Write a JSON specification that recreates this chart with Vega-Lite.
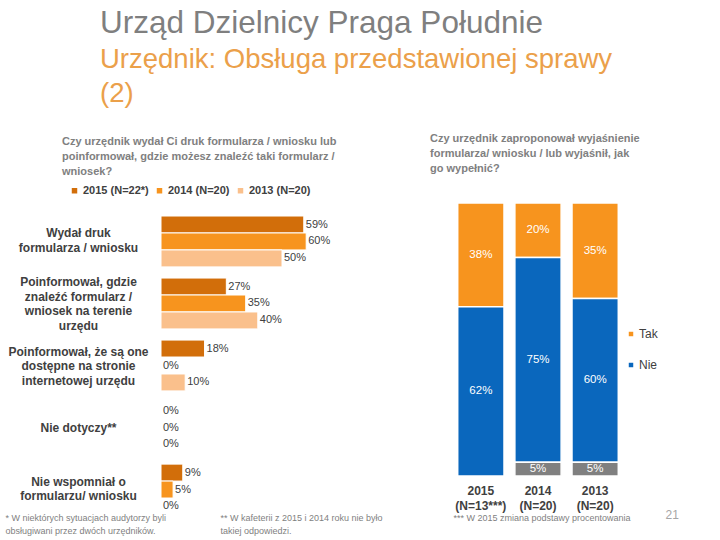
{
  "$schema": "https://vega.github.io/schema/vega-lite/v6.json",
  "background": "white",
  "padding": {"left": 5, "top": 8, "right": 5, "bottom": 4},
  "config": {
    "view": {"stroke": null},
    "font": "Liberation Sans"
  },
  "title": {
    "text": "Urząd Dzielnicy Praga Południe",
    "subtitle": ["Urzędnik: Obsługa przedstawionej sprawy", "(2)"],
    "anchor": "start",
    "frame": "bounds",
    "dx": 95,
    "font": "Liberation Sans",
    "fontSize": 31.5,
    "fontWeight": "normal",
    "color": "#7F7F7F",
    "subtitleFont": "Liberation Sans",
    "subtitleFontSize": 27.5,
    "subtitleColor": "#EBA04A",
    "subtitleLineHeight": 34,
    "subtitlePadding": 6,
    "offset": 26
  },
  "resolve": {"scale": {"color": "independent"}, "legend": {"color": "independent"}},
  "bounds": "flush",
  "spacing": 49,
  "hconcat": [
    {
      "width": 242,
      "height": 325,
      "title": {
        "text": ["Czy urzędnik wydał Ci druk formularza / wniosku lub", "poinformował, gdzie możesz znaleźć taki formularz /", "wniosek?"],
        "anchor": "start",
        "frame": "group",
        "dx": -99,
        "fontSize": 11,
        "fontWeight": "bold",
        "color": "#808080",
        "lineHeight": 15,
        "offset": 8
      },
      "data": {
        "values": [
          {"cat": "Wydał druk|formularza / wniosku", "year": "2015 (N=22*)", "value": 0.59},
          {"cat": "Wydał druk|formularza / wniosku", "year": "2014 (N=20)", "value": 0.60},
          {"cat": "Wydał druk|formularza / wniosku", "year": "2013 (N=20)", "value": 0.50},
          {"cat": "Poinformował, gdzie|znaleźć formularz /|wniosek na terenie|urzędu", "year": "2015 (N=22*)", "value": 0.27},
          {"cat": "Poinformował, gdzie|znaleźć formularz /|wniosek na terenie|urzędu", "year": "2014 (N=20)", "value": 0.35},
          {"cat": "Poinformował, gdzie|znaleźć formularz /|wniosek na terenie|urzędu", "year": "2013 (N=20)", "value": 0.40},
          {"cat": "Poinformował, że są one|dostępne na stronie|internetowej urzędu", "year": "2015 (N=22*)", "value": 0.18},
          {"cat": "Poinformował, że są one|dostępne na stronie|internetowej urzędu", "year": "2014 (N=20)", "value": 0.0},
          {"cat": "Poinformował, że są one|dostępne na stronie|internetowej urzędu", "year": "2013 (N=20)", "value": 0.10},
          {"cat": "Nie dotyczy**", "year": "2015 (N=22*)", "value": 0.0},
          {"cat": "Nie dotyczy**", "year": "2014 (N=20)", "value": 0.0},
          {"cat": "Nie dotyczy**", "year": "2013 (N=20)", "value": 0.0},
          {"cat": "Nie wspomniał o|formularzu/ wniosku", "year": "2015 (N=22*)", "value": 0.09},
          {"cat": "Nie wspomniał o|formularzu/ wniosku", "year": "2014 (N=20)", "value": 0.05},
          {"cat": "Nie wspomniał o|formularzu/ wniosku", "year": "2013 (N=20)", "value": 0.0}
        ]
      },
      "encoding": {
        "y": {
          "field": "cat",
          "type": "nominal",
          "sort": null,
          "scale": {"paddingInner": 0.18, "paddingOuter": 0.21},
          "axis": {
            "title": ["* W niektórych sytuacjach audytorzy byli", "obsługiwani przez dwóch urzędników."],
            "titleAngle": 0,
            "titleAlign": "left",
            "titleBaseline": "top",
            "titleX": -156,
            "titleY": 310,
            "titleFontSize": 9,
            "titleFontWeight": "normal",
            "titleColor": "#7F7F7F",
            "titleLineHeight": 13,
            "domain": false,
            "ticks": false,
            "labelAlign": "center",
            "labelBaseline": "middle",
            "labelPadding": 83,
            "labelOffset": {
              "condition": [
                {"test": "length(split(datum.label, '|')) == 4", "value": -21},
                {"test": "length(split(datum.label, '|')) == 3", "value": -14},
                {"test": "length(split(datum.label, '|')) == 2", "value": -8}
              ],
              "value": 0
            },
            "labelFontSize": 12,
            "labelFontWeight": "bold",
            "labelColor": "#404040",
            "labelLineHeight": 14.5,
            "labelLimit": 300,
            "labelExpr": "split(datum.label, '|')"
          }
        },
        "yOffset": {
          "field": "year",
          "type": "nominal",
          "sort": ["2015 (N=22*)", "2014 (N=20)", "2013 (N=20)"]
        },
        "x": {
          "field": "value",
          "type": "quantitative",
          "scale": {"domain": [0, 1]},
          "axis": {
            "title": ["** W kafeterii z 2015 i 2014 roku nie było", "takiej odpowiedzi."],
            "titleAlign": "left",
            "titleBaseline": "top",
            "titleX": 59,
            "titleY": -15,
            "titleFontSize": 9,
            "titleFontWeight": "normal",
            "titleColor": "#7F7F7F",
            "titleLineHeight": 13,
            "labels": false,
            "ticks": false,
            "domain": false,
            "grid": false
          }
        }
      },
      "layer": [
        {
          "mark": {"type": "bar", "stroke": "white", "strokeWidth": 1},
          "encoding": {
            "color": {
              "field": "year",
              "type": "nominal",
              "sort": ["2015 (N=22*)", "2014 (N=20)", "2013 (N=20)"],
              "scale": {"domain": ["2015 (N=22*)", "2014 (N=20)", "2013 (N=20)"], "range": ["#D26E0A", "#F7941E", "#FAC08C"]},
              "legend": {
                "orient": "none",
                "direction": "horizontal",
                "legendX": -92,
                "legendY": -18,
                "title": null,
                "symbolType": "square",
                "symbolSize": 30,
                "symbolStrokeWidth": 0,
                "labelFontSize": 11,
                "labelFontWeight": "bold",
                "labelColor": "#404040",
                "labelOffset": 3,
                "columnPadding": 5
              }
            }
          }
        },
        {
          "mark": {"type": "text", "align": "left", "baseline": "middle", "dx": 2, "fontSize": 11, "color": "#404040"},
          "encoding": {
            "text": {"field": "value", "type": "quantitative", "format": ".0%"}
          }
        }
      ]
    },
    {
      "width": 172,
      "height": 273,
      "title": {
        "text": ["Czy urzędnik zaproponował wyjaśnienie", "formularza/ wniosku / lub wyjaśnił, jak", "go wypełnić?"],
        "anchor": "start",
        "frame": "group",
        "dx": -22,
        "fontSize": 11,
        "fontWeight": "bold",
        "color": "#808080",
        "lineHeight": 15,
        "offset": 28
      },
      "data": {
        "values": [
          {"year": "2015|(N=13***)", "answer": "Tak", "value": 0.38},
          {"year": "2015|(N=13***)", "answer": "Nie", "value": 0.62},
          {"year": "2014|(N=20)", "answer": "Tak", "value": 0.20},
          {"year": "2014|(N=20)", "answer": "Nie", "value": 0.75},
          {"year": "2014|(N=20)", "answer": "Brak", "value": 0.05},
          {"year": "2013|(N=20)", "answer": "Tak", "value": 0.35},
          {"year": "2013|(N=20)", "answer": "Nie", "value": 0.60},
          {"year": "2013|(N=20)", "answer": "Brak", "value": 0.05}
        ]
      },
      "transform": [
        {"calculate": "datum.answer === 'Brak' ? 1 : (datum.answer === 'Nie' ? 2 : 3)", "as": "rank"},
        {"stack": "value", "groupby": ["year"], "sort": [{"field": "rank", "order": "ascending"}], "as": ["v0", "v1"]},
        {"calculate": "(datum.v0 + datum.v1) / 2", "as": "mid"}
      ],
      "encoding": {
        "x": {
          "field": "year",
          "type": "nominal",
          "sort": null,
          "scale": {"paddingInner": 0.19, "paddingOuter": 0.1},
          "axis": {
            "title": "*** W 2015 zmiana podstawy procentowania",
            "titleAlign": "left",
            "titleBaseline": "top",
            "titleX": 1,
            "titleY": 37,
            "titleFontSize": 9,
            "titleFontWeight": "normal",
            "titleColor": "#7F7F7F",
            "labelAngle": 0,
            "labelAlign": "center",
            "labelBaseline": "top",
            "labelPadding": 9,
            "labelFontSize": 12,
            "labelFontWeight": "bold",
            "labelColor": "#404040",
            "labelLineHeight": 15,
            "labelExpr": "split(datum.label, '|')",
            "domain": false,
            "ticks": false
          }
        }
      },
      "layer": [
        {
          "mark": {"type": "bar", "stroke": "white", "strokeWidth": 1.5},
          "encoding": {
            "y": {
              "field": "v0",
              "type": "quantitative",
              "scale": {"domain": [0, 1]},
              "axis": {
                "title": "21",
                "titleAngle": 0,
                "titleAlign": "left",
                "titleBaseline": "top",
                "titleX": 213,
                "titleY": 306,
                "titleFontSize": 12,
                "titleFontWeight": "normal",
                "titleColor": "#A6A6A6",
                "labels": false,
                "ticks": false,
                "domain": false,
                "grid": false
              }
            },
            "y2": {"field": "v1"},
            "color": {
              "field": "answer",
              "type": "nominal",
              "scale": {"domain": ["Tak", "Nie", "Brak"], "range": ["#F7941E", "#0A67BD", "#808080"]},
              "legend": {
                "values": ["Tak", "Nie"],
                "orient": "none",
                "legendX": 173,
                "legendY": 125,
                "title": null,
                "symbolType": "square",
                "symbolSize": 20,
                "symbolStrokeWidth": 0,
                "labelFontSize": 12,
                "labelColor": "#404040",
                "labelOffset": 2,
                "rowPadding": 19
              }
            }
          }
        },
        {
          "mark": {"type": "text", "align": "center", "baseline": "middle", "fontSize": 11.5, "color": "white"},
          "encoding": {
            "y": {"field": "mid", "type": "quantitative"},
            "text": {"field": "value", "type": "quantitative", "format": ".0%"}
          }
        }
      ]
    }
  ]
}
